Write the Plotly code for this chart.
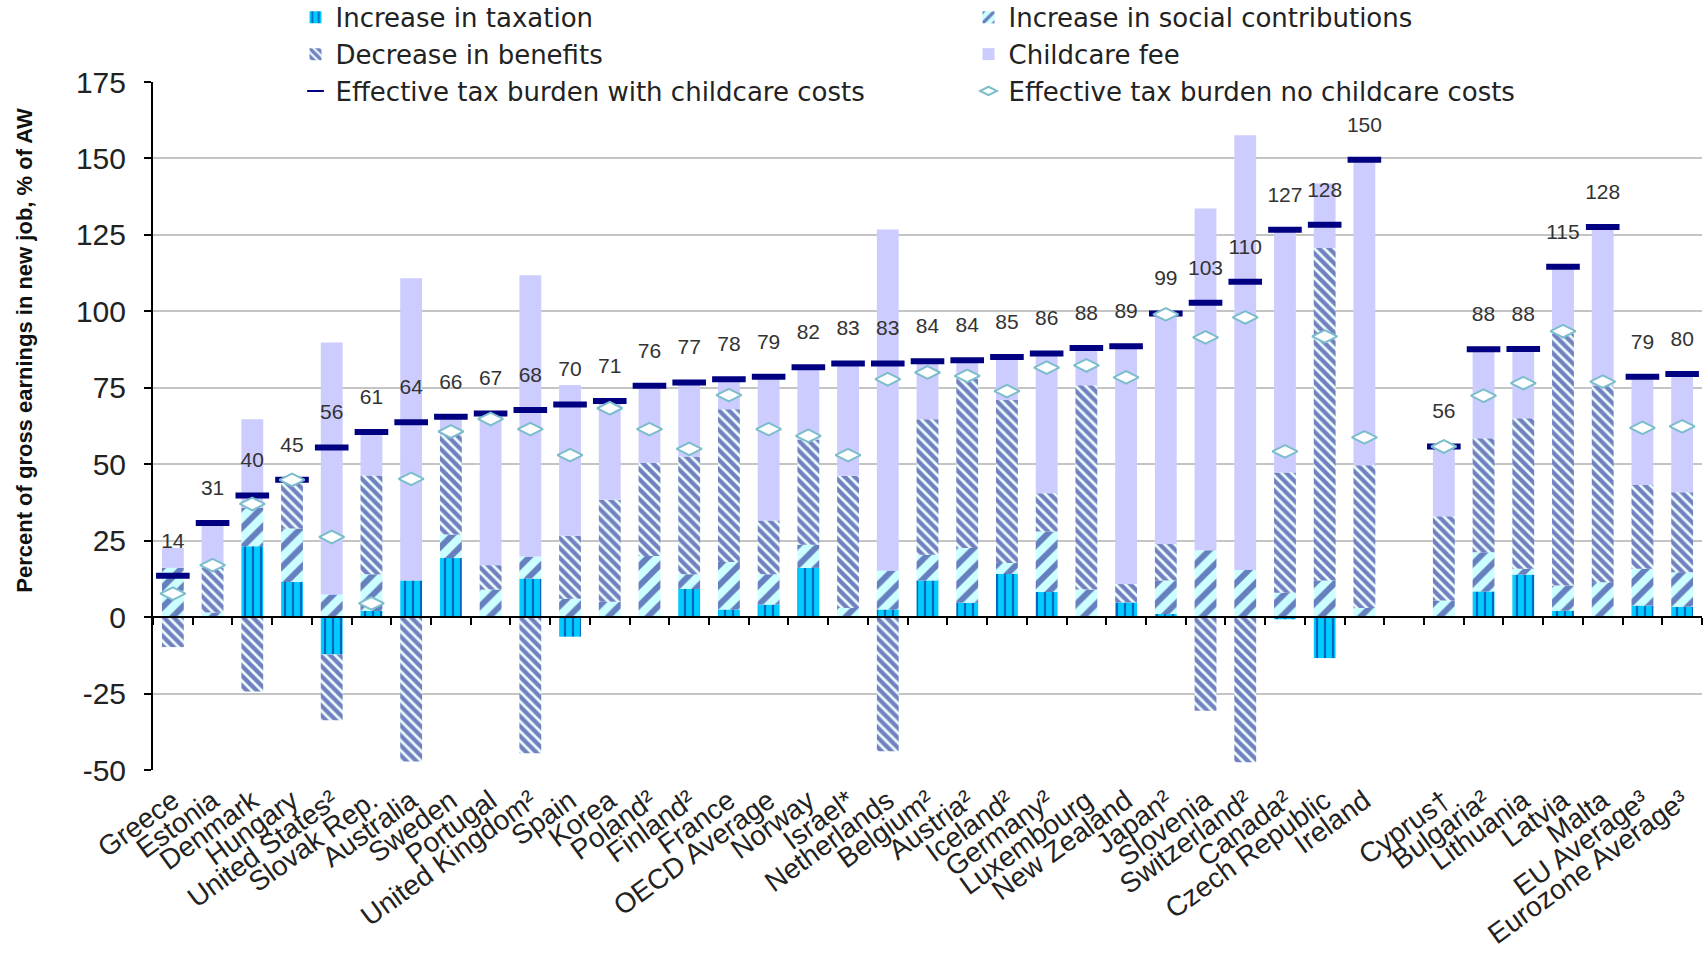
import plotly.graph_objects as go

categories = ["Greece", "Estonia", "Denmark", "Hungary", "United States²", "Slovak Rep.",
              "Australia", "Sweden", "Portugal", "United Kingdom²", "Spain", "Korea",
              "Poland²", "Finland²", "France", "OECD Average", "Norway", "Israel*",
              "Netherlands", "Belgium²", "Austria²", "Iceland²", "Germany²", "Luxembourg",
              "New Zealand", "Japan²", "Slovenia", "Switzerland²", "Canada²", "Czech Republic",
              "Ireland", " ", "Cyprus†", "Bulgaria²", "Lithuania", "Latvia", "Malta",
              "EU Average³", "Eurozone Average³"]

taxation = [0, 0, 23.2, 11.5, -12.2, 2.0, 12.0, 19.3, 0, 12.6, -6.4, 0, 0, 9.2, 2.5, 4.1,
            16.1, 0, 2.5, 12.0, 4.7, 14.1, 8.2, 0, 4.8, 1.0, 0, 0, -0.7, -13.4, 0, None,
            0, 8.4, 13.9, 2.1, 0, 3.8, 3.4]

social_contrib = [16.1, 1.5, 12.5, 17.5, 7.4, 12.0, 0, 7.7, 9.0, 7.2, 6.0, 5.0, 20.0, 4.8,
                  15.5, 9.9, 7.6, 3.0, 12.7, 8.4, 17.9, 3.6, 19.8, 9.0, 0, 11.0, 21.9, 15.4,
                  8.0, 12.0, 3.0, None, 5.4, 12.8, 1.9, 8.2, 11.4, 12.0, 11.3]

benefits = [-9.8, 14.6, -24.3, 15.9, -21.5, 32.3, -47.2, 32.6, 8.0, -44.5, 20.6, 33.4, 30.5,
            38.5, 50.0, 17.6, 34.2, 43.2, -43.9, 44.3, 55.4, 53.3, 12.5, 66.8, 6.0, 11.9,
            -30.6, -47.5, 39.3, 108.7, 46.7, None, 27.6, 37.3, 49.2, 82.3, 64.3, 27.4, 26.1]

childcare = [6.5, 14.1, 29.0, 0, 82.4, 14.1, 98.8, 5.9, 49.6, 92.0, 49.3, 32.3, 25.2, 24.2,
             9.8, 46.8, 23.6, 36.7, 111.6, 18.8, 6.0, 14.1, 45.7, 12.2, 77.8, 75.4, 111.7,
             142.2, 79.2, 21.1, 99.7, None, 22.8, 28.6, 22.7, 22.0, 51.2, 35.0, 38.5]

with_childcare = [13.5, 30.8, 39.8, 44.9, 55.5, 60.5, 63.7, 65.5, 66.6, 67.7, 69.5, 70.7,
                  75.7, 76.7, 77.8, 78.6, 81.7, 82.9, 82.9, 83.7, 84.0, 85.1, 86.2, 88.0,
                  88.6, 99.3, 102.8, 109.7, 126.7, 128.3, 149.6, None, 55.8, 87.6, 87.7,
                  114.6, 127.6, 78.6, 79.5]

no_childcare = [7.7, 17.0, 37.0, 44.9, 26.2, 4.5, 45.2, 60.7, 64.8, 61.5, 53.0, 68.3, 61.5,
                55.0, 72.6, 61.5, 59.3, 53.0, 77.8, 80.0, 78.9, 73.9, 81.6, 82.3, 78.4, 99.0,
                91.5, 98.0, 54.2, 91.8, 58.8, None, 55.8, 72.4, 76.5, 93.5, 77.0, 61.9, 62.4]

y_tickvals = [-50, -25, 0, 25, 50, 75, 100, 125, 150, 175]
y_ticktext = ["-50", "-25", "0", "25", "50", "75", "100", "125", "150", "175"]

FONT = "Liberation Sans, Arial, sans-serif"
LEGEND_FONT = "DejaVu Sans, Liberation Sans, sans-serif"
NAVY = "#000080"

fig = go.Figure()

fig.add_trace(go.Bar(
    x=categories, y=taxation, name="Increase in taxation", width=0.55,
    marker=dict(color="#00CCFF", line=dict(width=0),
                pattern=dict(shape="|", fgcolor=NAVY, bgcolor="#00CCFF",
                             size=8, solidity=0.28, fillmode="overlay")),
))
fig.add_trace(go.Bar(
    x=categories, y=social_contrib, name="Increase in social contributions", width=0.55,
    marker=dict(color="#CCFFFF", line=dict(width=0),
                pattern=dict(shape="/", fgcolor=NAVY, bgcolor="#CCFFFF",
                             size=14, solidity=0.42, fillmode="overlay")),
))
fig.add_trace(go.Bar(
    x=categories, y=benefits, name="Decrease in benefits", width=0.55,
    marker=dict(color="#E8FFFF", line=dict(width=0),
                pattern=dict(shape="\\", fgcolor=NAVY, bgcolor="#E8FFFF",
                             size=7, solidity=0.62, fillmode="overlay")),
))
fig.add_trace(go.Bar(
    x=categories, y=childcare, name="Childcare fee", width=0.55,
    marker=dict(color="#CCCCFF", line=dict(width=0)),
))
fig.add_trace(go.Scatter(
    x=categories, y=with_childcare, mode="markers",
    name="Effective tax burden with childcare costs",
    marker=dict(symbol="line-ew", size=24, color=NAVY,
                line=dict(color=NAVY, width=6)),
))
fig.add_trace(go.Scatter(
    x=categories, y=no_childcare, mode="markers",
    name="Effective tax burden no childcare costs",
    marker=dict(symbol="diamond-wide", size=18, color="white",
                line=dict(color="#7CBDCB", width=2)),
))
fig.add_trace(go.Scatter(
    x=categories, y=with_childcare, mode="markers+text", showlegend=False,
    texttemplate="%{y:.0f}", textposition="top center",
    marker=dict(size=35, opacity=0),
    textfont=dict(family=FONT, size=21, color="#333333"),
    hoverinfo="skip",
))
# helper trace carrying the categories for the axis drawn at zero
fig.add_trace(go.Scatter(
    x=categories, y=[None] * len(categories), xaxis="x2", mode="markers",
    showlegend=False, hoverinfo="skip",
))

fig.update_layout(
    width=1708, height=959,
    barmode="relative",
    plot_bgcolor="white", paper_bgcolor="white",
    margin=dict(l=153, r=6, t=82, b=189, autoexpand=False),
    font=dict(family=FONT, color="#222222"),
    showlegend=True,
    legend=dict(
        orientation="h", x=0.092, y=1.128, xanchor="left", yanchor="top",
        entrywidth=628, entrywidthmode="pixels", traceorder="normal",
        font=dict(family=LEGEND_FONT, size=26, color="#222222"),
        bgcolor="white", itemsizing="constant",
    ),
    xaxis=dict(
        type="category", categoryorder="array", categoryarray=categories,
        range=[-0.5, len(categories) - 0.5],
        showgrid=False, showline=False, ticks="", tickangle=-36,
        ticklabelstandoff=8,
        tickfont=dict(family=FONT, size=28, color="#222222"),
    ),
    xaxis2=dict(
        type="category", categoryorder="array", categoryarray=categories,
        range=[-0.5, len(categories) - 0.5],
        overlaying="x", anchor="free", position=50 / 225,
        showgrid=False, showline=True, linecolor="black", linewidth=2,
        ticks="outside", tickson="boundaries", ticklen=7, tickwidth=2,
        tickcolor="black", showticklabels=False,
    ),
    yaxis=dict(
        range=[-50, 175], tickvals=y_tickvals, ticktext=y_ticktext,
        showgrid=True, gridcolor="#C4C4C4", gridwidth=1.5,
        zeroline=False, showline=True, linecolor="black", linewidth=2,
        ticks="outside", ticklen=7, tickwidth=2, tickcolor="black",
        ticklabelstandoff=12,
        tickfont=dict(family=FONT, size=30, color="#222222"),
    ),
    annotations=[dict(
        text="<b>Percent of gross earnings in new job, % of AW</b>",
        xref="paper", yref="paper", x=-0.083, y=0.61,
        xanchor="center", yanchor="middle", textangle=-90, showarrow=False,
        font=dict(family=FONT, size=22, color="#111111"),
    )],
)

fig.write_html("out.html")
